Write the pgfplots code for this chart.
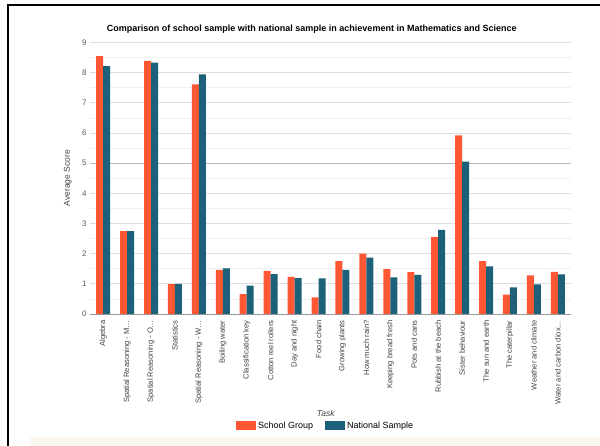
\documentclass[border=0pt]{standalone}
\usepackage{fontspec}
\setmainfont{Liberation Sans}
\usepackage{pgfplots}
\usepackage{pgfplotstable}
\pgfplotsset{compat=1.18}
\definecolor{schoolc}{RGB}{255,87,51}
\definecolor{natc}{RGB}{28,96,122}
\definecolor{gridc}{RGB}{222,222,222}
\definecolor{mgridc}{RGB}{240,240,240}
\definecolor{bandc}{RGB}{253,247,241}
\pgfplotstableread{
idx school national
0  8.55 8.22
1  2.75 2.75
2  8.39 8.33
3  0.99 1.00
4  7.61 7.94
5  1.46 1.51
6  0.66 0.94
7  1.43 1.32
8  1.23 1.19
9  0.55 1.18
10 1.75 1.46
11 2.00 1.87
12 1.49 1.21
13 1.39 1.30
14 2.56 2.79
15 5.92 5.05
16 1.75 1.58
17 0.64 0.88
18 1.28 0.98
19 1.40 1.31
}\datatable
\begin{document}
\begin{tikzpicture}
\path[use as bounding box] (0pt,0pt) rectangle (600pt,446pt);
\fill[bandc] (30pt,0pt) rectangle (600pt,9pt);
\draw[line width=2pt] (8pt,0pt) -- (8pt,441pt) -- (600pt,441pt);
\begin{axis}[
  at={(90pt,132pt)}, anchor=south west,
  scale only axis, width=481pt, height=271.5pt,
  xmin=-0.55, xmax=19.55, ymin=0, ymax=9,
  ybar=0pt, bar width=7pt,
  axis x line*=bottom, axis y line*=left,
  x axis line style={draw=gray!80},
  y axis line style={draw=none},
  tick style={draw=none},
  ytick={0,1,...,9},
  minor y tick num=1,
  ymajorgrids, yminorgrids,
  major grid style={draw=gridc, line width=0.8pt},
  minor grid style={draw=mgridc, line width=0.8pt},
  extra y ticks={5}, extra y tick labels={},
  extra y tick style={grid=major, major grid style={draw=gray!55, line width=0.8pt}},
  /pgf/number format/assume math mode=true,
  yticklabel style={font=\fontsize{8}{9}\selectfont, text=black!65},
  xtick=data,
  xticklabels={Algebra,Spatial Reasoning - M…,Spatial Reasoning - O…,Statistics,Spatial Reasoning - W…,Boiling water,Classification key,Cotton reel rollers,Day and night,Food chain,Growing plants,How much rain?,Keeping bread fresh,Pots and cans,Rubbish at the beach,Sister behaviour,The sun and earth,The caterpillar,Weather and climate,Water and carbon diox…},
  xticklabel style={rotate=90, anchor=east, font=\fontsize{7.6}{9}\selectfont, text=black!75, inner sep=2pt},
  title={\bfseries Comparison of school sample with national sample in achievement in Mathematics and Science},
  title style={font=\fontsize{9}{10}\selectfont, at={(axis description cs:0.461,1.028)}, anchor=center},
  ylabel={Average Score},
  ylabel style={font=\fontsize{8.5}{10}\selectfont, text=black!75, at={(axis description cs:-0.046,0.5)}, anchor=center, rotate=0},
  xlabel={\itshape Task},
  xlabel style={font=\fontsize{8.5}{10}\selectfont, text=black!75, at={(axis description cs:0.49,-0.368)}, anchor=center},
  legend style={at={(axis description cs:0.49,-0.412)}, anchor=center, draw=none, fill=none,
    font=\fontsize{9}{10}\selectfont, legend columns=2,
    /tikz/every even column/.append style={column sep=10pt}},
  legend image code/.code={\fill[#1] (0pt,-4pt) rectangle (20pt,4.5pt);},
]
\addplot[draw=none, fill=schoolc] table[x=idx, y=school] {\datatable};
\addplot[draw=none, fill=natc] table[x=idx, y=national] {\datatable};
\legend{School Group, National Sample}
\end{axis}
\end{tikzpicture}
\end{document}
